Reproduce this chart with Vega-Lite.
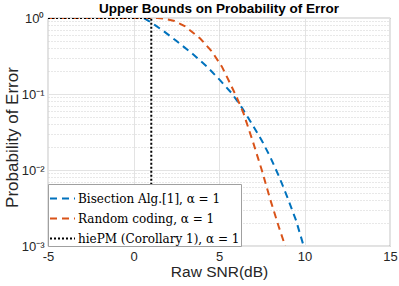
{
  "$schema": "https://vega.github.io/schema/vega-lite/v6.json",
  "width": 342,
  "height": 228,
  "autosize": "none",
  "padding": {"left": 48, "top": 18, "right": 9, "bottom": 40},
  "background": "white",
  "config": {
    "view": {"stroke": "#4d4d4d", "strokeWidth": 0.8},
    "font": "Liberation Sans"
  },
  "title": {
    "text": "Upper Bounds on Probability of Error",
    "font": "Liberation Sans",
    "fontSize": 13.5,
    "fontWeight": "bold",
    "color": "#000000",
    "anchor": "middle",
    "frame": "group",
    "offset": 5,
    "dy": 8
  },
  "data": {
    "values": [
      {"series": "Bisection Alg.[1], α = 1", "k": 0, "x": -5, "y": 1},
      {"series": "Bisection Alg.[1], α = 1", "k": 1, "x": 0.6, "y": 1},
      {"series": "Bisection Alg.[1], α = 1", "k": 2, "x": 0.9, "y": 0.912},
      {"series": "Bisection Alg.[1], α = 1", "k": 3, "x": 1.3, "y": 0.794},
      {"series": "Bisection Alg.[1], α = 1", "k": 4, "x": 1.8, "y": 0.661},
      {"series": "Bisection Alg.[1], α = 1", "k": 5, "x": 2.5, "y": 0.501},
      {"series": "Bisection Alg.[1], α = 1", "k": 6, "x": 3.5, "y": 0.331},
      {"series": "Bisection Alg.[1], α = 1", "k": 7, "x": 4.3, "y": 0.229},
      {"series": "Bisection Alg.[1], α = 1", "k": 8, "x": 5.07, "y": 0.151},
      {"series": "Bisection Alg.[1], α = 1", "k": 9, "x": 5.75, "y": 0.102},
      {"series": "Bisection Alg.[1], α = 1", "k": 10, "x": 6.34, "y": 0.0661},
      {"series": "Bisection Alg.[1], α = 1", "k": 11, "x": 6.92, "y": 0.0407},
      {"series": "Bisection Alg.[1], α = 1", "k": 12, "x": 7.5, "y": 0.0245},
      {"series": "Bisection Alg.[1], α = 1", "k": 13, "x": 8.0, "y": 0.0148},
      {"series": "Bisection Alg.[1], α = 1", "k": 14, "x": 8.5, "y": 0.00832},
      {"series": "Bisection Alg.[1], α = 1", "k": 15, "x": 9.0, "y": 0.00437},
      {"series": "Bisection Alg.[1], α = 1", "k": 16, "x": 9.5, "y": 0.00219},
      {"series": "Bisection Alg.[1], α = 1", "k": 17, "x": 9.95, "y": 0.001},
      {"series": "Random coding, α = 1", "k": 0, "x": -5, "y": 1},
      {"series": "Random coding, α = 1", "k": 1, "x": 1.4, "y": 1},
      {"series": "Random coding, α = 1", "k": 2, "x": 1.85, "y": 0.977},
      {"series": "Random coding, α = 1", "k": 3, "x": 2.4, "y": 0.912},
      {"series": "Random coding, α = 1", "k": 4, "x": 3.02, "y": 0.776},
      {"series": "Random coding, α = 1", "k": 5, "x": 3.9, "y": 0.537},
      {"series": "Random coding, α = 1", "k": 6, "x": 4.58, "y": 0.363},
      {"series": "Random coding, α = 1", "k": 7, "x": 5.17, "y": 0.229},
      {"series": "Random coding, α = 1", "k": 8, "x": 5.65, "y": 0.138},
      {"series": "Random coding, α = 1", "k": 9, "x": 6.05, "y": 0.0891},
      {"series": "Random coding, α = 1", "k": 10, "x": 6.43, "y": 0.0562},
      {"series": "Random coding, α = 1", "k": 11, "x": 7.0, "y": 0.0229},
      {"series": "Random coding, α = 1", "k": 12, "x": 7.5, "y": 0.01},
      {"series": "Random coding, α = 1", "k": 13, "x": 8.0, "y": 0.00407},
      {"series": "Random coding, α = 1", "k": 14, "x": 8.5, "y": 0.00178},
      {"series": "Random coding, α = 1", "k": 15, "x": 8.87, "y": 0.001},
      {"series": "hiePM (Corollary 1), α = 1", "k": 0, "x": -5, "y": 1},
      {"series": "hiePM (Corollary 1), α = 1", "k": 1, "x": 1.04, "y": 1},
      {"series": "hiePM (Corollary 1), α = 1", "k": 2, "x": 1.04, "y": 0.001}
    ]
  },
  "mark": {"type": "line", "strokeWidth": 2, "clip": true},
  "encoding": {
    "x": {
      "field": "x",
      "type": "quantitative",
      "scale": {"domain": [-5, 15], "nice": false, "zero": false},
      "axis": {
        "title": "Raw SNR(dB)",
        "values": [-5, 0, 5, 10, 15],
        "labelExpr": "toString(datum.value)",
        "labelFontSize": 13,
        "labelColor": "#262626",
        "labelPadding": 4,
        "labelFlush": false,
        "ticks": false,
        "domain": false,
        "gridColor": "#e3e3e3",
        "gridWidth": 1,
        "titleFontSize": 15.5,
        "titleFontWeight": "normal",
        "titleColor": "#262626",
        "titleBaseline": "middle",
        "titleY": 25
      }
    },
    "y": {
      "field": "y",
      "type": "quantitative",
      "scale": {"type": "log", "domain": [0.001, 1], "nice": false},
      "axis": {
        "title": "Probability of Error",
        "values": [0.001, 0.002, 0.003, 0.004, 0.005, 0.006, 0.007, 0.008, 0.009, 0.01, 0.02, 0.03, 0.04, 0.05, 0.06, 0.07, 0.08, 0.09, 0.1, 0.2, 0.3, 0.4, 0.5, 0.6, 0.7, 0.8, 0.9, 1],
        "labelExpr": "datum.value == 1 ? '10⁰' : datum.value == 0.1 ? '10⁻¹' : datum.value == 0.01 ? '10⁻²' : datum.value == 0.001 ? '10⁻³' : ''",
        "labelFontSize": 13,
        "labelColor": "#262626",
        "labelPadding": 4,
        "labelFlush": false,
        "ticks": false,
        "domain": false,
        "gridColor": {"condition": {"test": "datum.value == 1 || datum.value == 0.1 || datum.value == 0.01 || datum.value == 0.001", "value": "#e3e3e3"}, "value": "#d0d0d0"},
        "gridDash": {"condition": {"test": "datum.value == 1 || datum.value == 0.1 || datum.value == 0.01 || datum.value == 0.001", "value": []}, "value": [1, 2]},
        "gridWidth": 1,
        "titleFontSize": 17,
        "titleFontWeight": "normal",
        "titleColor": "#262626",
        "titleBaseline": "middle",
        "titleX": -36,
        "titleY": 119
      }
    },
    "order": {"field": "k", "type": "quantitative"},
    "color": {
      "field": "series",
      "type": "nominal",
      "sort": ["Bisection Alg.[1], α = 1", "Random coding, α = 1", "hiePM (Corollary 1), α = 1"],
      "scale": {
        "domain": ["Bisection Alg.[1], α = 1", "Random coding, α = 1", "hiePM (Corollary 1), α = 1"],
        "range": ["#0072BD", "#D95319", "#000000"]
      },
      "legend": {
        "title": null,
        "orient": "bottom-left",
        "offset": 0,
        "fillColor": "white",
        "strokeColor": "#a0a0a0",
        "padding": 1,
        "symbolType": "stroke",
        "symbolSize": 625,
        "symbolStrokeWidth": 2,
        "labelFont": "DejaVu Serif",
        "labelFontSize": 12,
        "labelColor": "#000000",
        "labelOffset": 2,
        "rowPadding": -7.5,
        "labelLimit": 300
      }
    },
    "strokeDash": {
      "field": "series",
      "type": "nominal",
      "sort": ["Bisection Alg.[1], α = 1", "Random coding, α = 1", "hiePM (Corollary 1), α = 1"],
      "scale": {
        "domain": ["Bisection Alg.[1], α = 1", "Random coding, α = 1", "hiePM (Corollary 1), α = 1"],
        "range": [[7, 5], [7, 5], [2, 2]]
      },
      "legend": {
        "title": null,
        "orient": "bottom-left",
        "offset": 0,
        "fillColor": "white",
        "strokeColor": "#a0a0a0",
        "padding": 1,
        "symbolType": "stroke",
        "symbolSize": 625,
        "symbolStrokeWidth": 2,
        "labelFont": "DejaVu Serif",
        "labelFontSize": 12,
        "labelColor": "#000000",
        "labelOffset": 2,
        "rowPadding": -7.5,
        "labelLimit": 300
      }
    }
  }
}
